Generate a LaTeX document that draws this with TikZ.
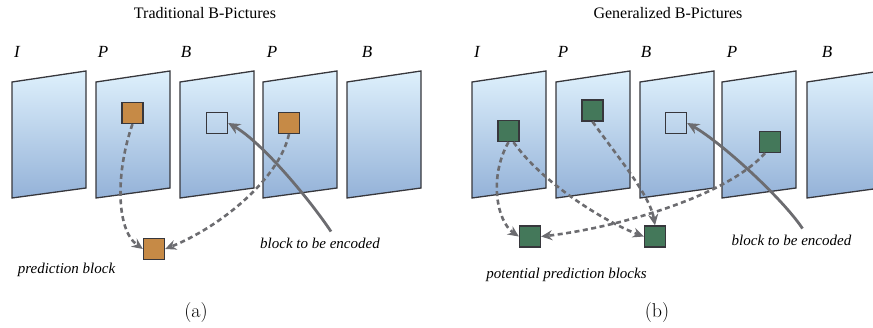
\documentclass[tikz,border=0pt]{standalone}
\usepackage{fontspec}
\newfontfamily\timesfont{Liberation Serif}
\usetikzlibrary{arrows.meta, positioning}

\definecolor{frameline}{RGB}{55,55,60}
\definecolor{frametop}{RGB}{222,240,252}
\definecolor{framebottom}{RGB}{148,178,216}
\definecolor{brownblk}{RGB}{198,138,70}
\definecolor{greenblk}{RGB}{68,120,90}
\definecolor{arrowgray}{RGB}{108,108,112}

\begin{document}
\begin{tikzpicture}[
        x=1pt, y=-1pt,
        % Shape styles
        frame/.style={
                draw=frameline, line width=1.3pt, line join=miter,
                top color=frametop, bottom color=framebottom,
            },
        blk/.style={
                draw=frameline, line width=1.3pt, minimum size=21pt, inner sep=0pt,
            },
        oldblk/.style={blk, fill=brownblk},
        newblk/.style={blk, fill=greenblk},
        % Text styles
        ptype/.style={font=\timesfont\itshape\fontsize{17}{20}\selectfont, inner sep=0pt},
        title/.style={font=\timesfont\fontsize{16}{19}\selectfont, inner sep=0pt},
        note/.style={font=\timesfont\itshape\fontsize{15}{18}\selectfont, inner sep=0pt},
        sub/.style={font=\fontsize{20}{24}\selectfont, inner sep=0pt},
        % Connector styles
        pred/.style={
                draw=arrowgray, line width=2.6pt, dash pattern=on 5pt off 3.5pt,
                -{Stealth[length=11pt,width=10pt]},
            },
        motion/.style={
                draw=arrowgray, line width=2.8pt,
                -{Stealth[length=12pt,width=11pt]},
            },
    ]
    \useasboundingbox (0,0) rectangle (873,328);

    % --- frames of both sequences ---
    \foreach \fx in {12, 96, 180, 263, 347, 472, 556, 640, 722, 807} {
            \draw[frame] (\fx,82) -- ++(74,-11) -- ++(0,117) -- ++(-74,10) -- cycle;
        }

    % --- picture types ---
    \foreach \lx/\t [count=\i] in {17/I, 103/P, 186/B, 272/P, 367/B,
            477/I, 563/P, 646/B, 732/P, 827/B} {
            \node[ptype] (type\i) at (\lx,52) {\t};
        }

    \node[title] (titleA) at (205,13) {Traditional B-Pictures};
    \node[title] (titleB) at (668,13) {Generalized B-Pictures};

    % --- (a) traditional ---
    \node[oldblk] (blkPa) at (132.5,113) {};
    \node[blk] (curA) at (217,123) {};
    \node[oldblk] (blkPb) at (289,123) {};
    \node[oldblk] (predblk) at (154,249) {};

    \node[note] (predlbl) at (66.5,270) {prediction block};
    \node[note] (encA) at (320,243) {block to be encoded};
    \node[sub] (subA) at (196,313) {(a)};

    \draw[pred] (blkPa.south) .. controls +(-16,45) and +(-28,-20) .. (predblk.west);
    \draw[pred] (blkPb.south) .. controls +(-10,45) and +(55,-22) .. (predblk.east);
    \draw[motion] ([xshift=11pt,yshift=6pt]encA.north)
    .. controls +(-20,-30) and +(35,20) .. (curA.east);

    % --- (b) generalized ---
    \node[newblk] (blkI) at (508.5,131) {};
    \node[newblk] (blkP) at (592.5,110.5) {};
    \node[blk] (curB) at (676,123) {};
    \node[newblk] (blkP2) at (770,142) {};
    \node[newblk] (candL) at (530,236.5) {};
    \node[newblk] (candR) at (655,236.5) {};

    \node[note] (candlbl) at (566.5,275) {potential prediction blocks};
    \node[note] (encB) at (791.5,240) {block to be encoded};
    \node[sub] (subB) at (657,313) {(b)};

    \draw[pred] (blkI.south) .. controls +(-20,35) and +(-22,-15) .. (candL.west);
    \draw[pred] ([xshift=5pt]blkI.south) .. controls +(28,40) and +(-40,-15) .. (candR.west);
    \draw[pred] (blkP.south) .. controls +(25,35) and +(-5,-30) .. (candR.north);
    \draw[pred] ([xshift=-5pt]blkP2.south) .. controls +(-40,45) and +(70,-8) .. (candL.east);
    \draw[motion] ([xshift=11pt,yshift=6pt]encB.north)
    .. controls +(-20,-30) and +(35,20) .. (curB.east);

\end{tikzpicture}
\end{document}
